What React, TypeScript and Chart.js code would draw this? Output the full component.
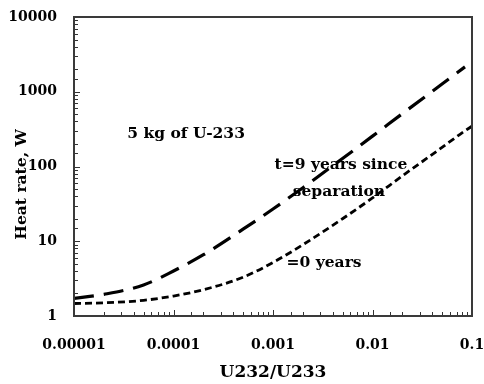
import React, { useEffect, useRef } from "react";
import { Chart, registerables } from "chart.js";

Chart.register(...registerables);

// ---- data ----
const ratios = [1e-5, 2e-5, 5e-5, 1e-4, 2e-4, 5e-4, 1e-3, 2e-3, 5e-3, 1e-2, 2e-2, 5e-2, 0.085, 0.1];
const heatT9 = [1.72, 1.95, 2.6, 4.0, 6.6, 14.5, 27, 52, 128, 255, 510, 1270, 2150, null];
const heatT0 = [1.47, 1.5, 1.62, 1.85, 2.25, 3.3, 5.2, 9, 20, 38, 75, 180, 300, 345];

const xTickLabels = ["0.00001", "0.0001", "0.001", "0.01", "0.1"];
const yTickLabels = ["1", "10", "100", "1000", "10000"];
const xTitle = "U232/U233";
const yTitle = "Heat rate, W";

const annotations = [
  { text: "5 kg of U-233", x: 1.34e-4, y: 272 },
  { text: "t=9 years since", x: 4.82e-3, y: 105 },
  { text: "separation", x: 4.6e-3, y: 45.6 },
  { text: "=0 years", x: 3.26e-3, y: 5.12 },
];

const FONT = "'DejaVu Serif', serif";

function decadeIndex(v: number, minExp: number): number | null {
  const l = Math.log10(v);
  const r = Math.round(l);
  if (Math.abs(l - r) > 1e-6) return null;
  return r - minExp;
}

const framePlugin = {
  id: "frame",
  beforeDatasetsDraw(chart: any) {
    const { ctx, scales } = chart;
    ctx.save();
    ctx.fillStyle = "#000";
    ctx.font = `bold 15.5px ${FONT}`;
    ctx.textAlign = "center";
    ctx.textBaseline = "middle";
    for (const a of annotations) {
      ctx.fillText(a.text, scales.x.getPixelForValue(a.x), scales.y.getPixelForValue(a.y));
    }
    ctx.restore();
  },
  afterDraw(chart: any) {
    const { ctx, chartArea: ca, scales } = chart;
    ctx.save();
    ctx.strokeStyle = "#333";
    ctx.lineWidth = 1;
    // inward ticks
    for (const t of scales.y.ticks) {
      const p = Math.round(scales.y.getPixelForValue(t.value)) + 0.5;
      const major = decadeIndex(t.value, 0) !== null;
      ctx.beginPath();
      ctx.moveTo(ca.left, p);
      ctx.lineTo(ca.left + (major ? 6 : 4), p);
      ctx.stroke();
    }
    for (const t of scales.x.ticks) {
      const p = Math.round(scales.x.getPixelForValue(t.value)) + 0.5;
      const major = decadeIndex(t.value, -5) !== null;
      ctx.beginPath();
      ctx.moveTo(p, ca.bottom);
      ctx.lineTo(p, ca.bottom - (major ? 6 : 4));
      ctx.stroke();
    }
    // box
    ctx.strokeStyle = "#3a3a3a";
    ctx.lineWidth = 2;
    ctx.strokeRect(ca.left, ca.top, ca.right - ca.left, ca.bottom - ca.top);
    // y title
    ctx.fillStyle = "#000";
    ctx.font = `bold 15.5px ${FONT}`;
    ctx.textAlign = "center";
    ctx.textBaseline = "middle";
    ctx.translate(21.5, ca.top + (ca.bottom - ca.top) * 0.56);
    ctx.rotate(-Math.PI / 2);
    ctx.fillText(yTitle, 0, 0);
    ctx.restore();
  },
};

export default function App() {
  const ref = useRef<HTMLCanvasElement>(null);
  useEffect(() => {
    if (!ref.current) return;
    const chart = new Chart(ref.current, {
      type: "line",
      data: {
        datasets: [
          {
            label: "t=9 years since separation",
            data: ratios.map((r, i) => ({ x: r, y: heatT9[i] as any })),
            borderColor: "#000",
            borderWidth: 3.2,
            borderDash: [20, 10],
            pointRadius: 0,
            cubicInterpolationMode: "monotone",
            spanGaps: false,
            fill: false,
          },
          {
            label: "t=0 years",
            data: ratios.map((r, i) => ({ x: r, y: heatT0[i] })),
            borderColor: "#000",
            borderWidth: 2.8,
            borderDash: [7, 4],
            pointRadius: 0,
            cubicInterpolationMode: "monotone",
            fill: false,
          },
        ],
      },
      options: {
        animation: false,
        responsive: false,
        maintainAspectRatio: false,
        layout: { padding: { left: 0, right: 12, top: 17, bottom: 0 } },
        plugins: { legend: { display: false }, tooltip: { enabled: false } },
        scales: {
          x: {
            type: "logarithmic",
            min: 1e-5,
            max: 0.1,
            grid: { display: false, drawTicks: false },
            border: { display: false },
            ticks: {
              autoSkip: false,
              maxRotation: 0,
              padding: 21,
              color: "#000",
              font: { family: FONT, size: 14, weight: "bold" },
              callback: (v: any) => {
                const i = decadeIndex(Number(v), -5);
                return i === null ? "" : xTickLabels[i];
              },
            },
            title: {
              display: true,
              text: xTitle,
              color: "#000",
              font: { family: FONT, size: 17, weight: "bold" },
              padding: { top: 0, bottom: 1 },
            },
            afterFit: (s: any) => {
              s.height = 68;
              s.paddingLeft = 0;
              s.paddingRight = 0;
              s.paddingTop = 0;
              s.paddingBottom = 0;
            },
          },
          y: {
            type: "logarithmic",
            min: 1,
            max: 10000,
            grid: { display: false, drawTicks: false },
            border: { display: false },
            ticks: {
              autoSkip: false,
              padding: 17,
              color: "#000",
              font: { family: FONT, size: 14, weight: "bold" },
              callback: (v: any) => {
                const i = decadeIndex(Number(v), 0);
                return i === null ? "" : yTickLabels[i];
              },
            },
            afterFit: (s: any) => {
              s.width = 74;
              s.paddingLeft = 0;
              s.paddingRight = 0;
              s.paddingTop = 0;
              s.paddingBottom = 0;
            },
          },
        },
      },
      plugins: [framePlugin],
    });
    return () => chart.destroy();
  }, []);
  return (
    <div style={{ position: "absolute", left: 0, top: 0, width: 484, height: 384, background: "#fff" }}>
      <canvas ref={ref} width={484} height={384} />
    </div>
  );
}
